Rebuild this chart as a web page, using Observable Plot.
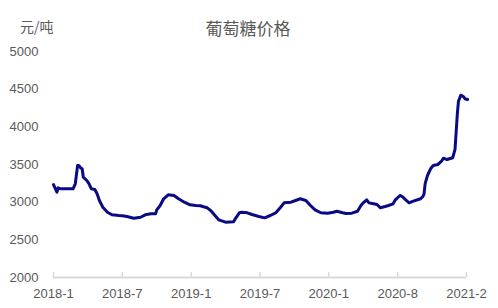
<!DOCTYPE html>
<html>
<head>
<meta charset="utf-8">
<script src="https://cdn.jsdelivr.net/npm/d3@7"></script>
<script src="https://cdn.jsdelivr.net/npm/@observablehq/plot@0.6"></script>
<style>
  html, body { margin: 0; padding: 0; background: #fff; }
  #wrap { position: relative; width: 498px; height: 308px; overflow: hidden; }
  #title { position: absolute; left: 0; width: 496px; top: 17px; text-align: center;
           font-family: "Noto Sans CJK SC", sans-serif; font-size: 17px; color: #595959; line-height: 22px; }
  #unit { position: absolute; left: 20px; top: 16px; font-family: "Noto Sans CJK SC", sans-serif;
          font-size: 14px; color: #595959; line-height: 20px; }
  #chart { position: absolute; left: 0; top: 0; }
</style>
</head>
<body>
<div id="wrap">
  <div id="chart"></div>
  <div id="title">葡萄糖价格</div>
  <div id="unit">元/吨</div>
</div>
<script>
// period index (60 periods between x-axis labels) and price (元/吨)
const period = [0, 3, 4, 6, 17, 19, 21, 22, 24, 25, 26, 29, 31, 33, 36, 38, 40, 43, 47, 51, 57, 60, 64, 70, 76, 80, 85, 89,
  90, 93, 96, 100, 105, 109, 114, 119, 124, 128, 130, 134, 137, 140, 144, 150, 157, 159, 162, 164, 169, 173, 179, 184,
  189, 194, 198, 201, 207, 211, 215, 220, 224, 228, 233, 239, 244, 247, 252, 255, 260, 265, 268, 270, 273, 275, 279,
  282, 285, 289, 292, 296, 298, 302, 304, 307, 310, 313, 318, 320, 322, 323, 324, 326, 329, 331, 335, 338, 340, 343,
  348, 350, 352, 353, 355, 357, 359, 361];
const price = [3234, 3132, 3190, 3177, 3177, 3244, 3487, 3487, 3451, 3443, 3331, 3288, 3244, 3177, 3168, 3111, 3022, 2933,
  2867, 2832, 2823, 2820, 2810, 2787, 2800, 2832, 2845, 2845,
  2898, 2956, 3045, 3098, 3089, 3045, 3000, 2965, 2956, 2952, 2942, 2925, 2889, 2836, 2766, 2734, 2739, 2792, 2859, 2867,
  2859, 2836, 2810, 2792,
  2823, 2862, 2933, 2991, 3000, 3022, 3045, 3022, 2956, 2898, 2859, 2854, 2867, 2880, 2859, 2850, 2854, 2880, 2956, 2991,
  3031, 2991, 2978,
  2969, 2925, 2942, 2956, 2978, 3031, 3089, 3075, 3031, 2991, 3010, 3035, 3045, 3075, 3111, 3250, 3354, 3451, 3487, 3500,
  3540, 3584, 3566,
  3590, 3700, 4170, 4340, 4420, 4405, 4370, 4363];
const tickPeriods = [0, 60, 120, 180, 240, 300, 360];
const tickLabels = ["2018-1", "2018-7", "2019-1", "2019-7", "2020-1", "2020-8", "2021-2"];
const yTicks = [2000, 2500, 3000, 3500, 4000, 4500, 5000];

const data = period.map((p, i) => ({period: p, price: price[i]}));
const labelOf = new Map(tickPeriods.map((p, i) => [p, tickLabels[i]]));

const chart = Plot.plot({
  width: 498,
  height: 308,
  marginLeft: 53,
  marginRight: 32,
  marginTop: 51,
  marginBottom: 31,
  style: {fontFamily: "'Liberation Sans', Arial, sans-serif", fontSize: "13px", color: "#595959", background: "transparent"},
  x: {domain: [0, 360]},
  y: {domain: [2000, 5000]},
  marks: [
    Plot.ruleY([2000], {stroke: "#d9d9d9", strokeWidth: 2}),
    Plot.tickX(tickPeriods, {x: d => d, stroke: "#d9d9d9", strokeWidth: 1.5, insetTop: 221}),
    Plot.axisX({ticks: tickPeriods, tickFormat: d => labelOf.get(d), tickSize: 0, tickPadding: 11, label: null,
      fill: "#595959", fontSize: 13}),
    Plot.axisY({ticks: yTicks, tickFormat: d => String(d), tickSize: 0, tickPadding: 15, label: null, fill: "#595959", fontSize: 13}),
    Plot.lineY(data, {x: "period", y: "price", stroke: "#0a0a85", strokeWidth: 3, strokeLinejoin: "round", strokeLinecap: "round"})
  ]
});
document.getElementById("chart").appendChild(chart);
</script>
</body>
</html>
